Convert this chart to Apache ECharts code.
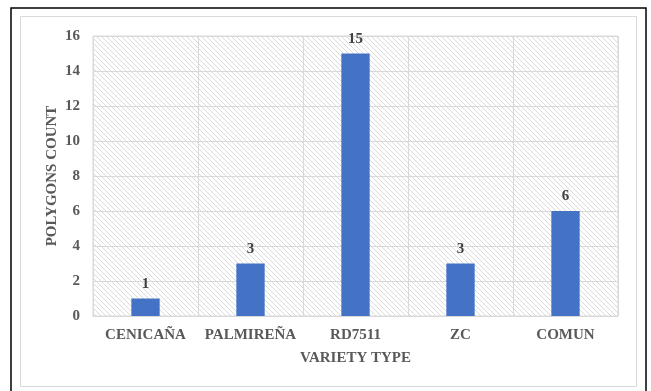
<!DOCTYPE html>
<html>
<head>
<meta charset="utf-8">
<script src="https://cdn.jsdelivr.net/npm/echarts@6/dist/echarts.min.js"></script>
<style>
  html, body { margin: 0; padding: 0; background: #fff; }
  #chart { width: 651px; height: 391px; }
</style>
</head>
<body>
<div id="chart"></div>
<script>
// Polygon counts per variety type
const categories = ['CENICAÑA', 'PALMIREÑA', 'RD7511', 'ZC', 'COMUN'];
const polygonCounts = [1, 3, 15, 3, 6];
const yTicks = { min: 0, max: 16, step: 2 };

// Diagonal hatch tile for the plot area background
function hatchTile() {
  const s = 5;
  const c = document.createElement('canvas');
  c.width = s; c.height = s;
  const g = c.getContext('2d');
  g.fillStyle = '#ffffff';
  g.fillRect(0, 0, s, s);
  g.strokeStyle = '#dadada';
  g.lineWidth = 1;
  g.beginPath();
  g.moveTo(-1, -1); g.lineTo(s + 1, s + 1);
  g.moveTo(-1 - s, -1); g.lineTo(1, s + 1);
  g.moveTo(s - 1, -1); g.lineTo(2 * s + 1, s + 1);
  g.stroke();
  return c;
}

const font = '"Liberation Serif", "Times New Roman", serif';
const chart = echarts.init(document.getElementById('chart'), null, { renderer: 'canvas' });

chart.setOption({
  animation: false,
  backgroundColor: '#ffffff',
  textStyle: { fontFamily: font },
  graphic: [
    { type: 'rect', shape: { x: 11, y: 8, width: 635, height: 390 },
      style: { fill: 'none', stroke: '#000', lineWidth: 1.5 }, silent: true, z: 0 },
    { type: 'rect', shape: { x: 20.5, y: 16.5, width: 616, height: 370 },
      style: { fill: 'none', stroke: '#d9d9d9', lineWidth: 1 }, silent: true, z: 0 }
  ],
  grid: {
    left: 93, right: 33, top: 36, bottom: 75,
    show: true,
    borderWidth: 1,
    borderColor: '#d9d9d9',
    backgroundColor: { image: hatchTile(), repeat: 'repeat' }
  },
  xAxis: {
    type: 'category',
    data: categories,
    name: 'VARIETY TYPE',
    nameLocation: 'middle',
    nameGap: 35,
    nameTextStyle: { fontFamily: font, fontWeight: 'bold', fontSize: 15, color: '#595959' },
    axisLine: { show: true, lineStyle: { color: '#d9d9d9', width: 1 } },
    axisTick: { show: false },
    axisLabel: { interval: 0, fontFamily: font, fontWeight: 'bold', fontSize: 15, color: '#595959', margin: 12 },
    splitLine: { show: true, interval: 0, lineStyle: { color: '#d9d9d9', width: 1 } }
  },
  yAxis: {
    type: 'value',
    min: yTicks.min, max: yTicks.max, interval: yTicks.step,
    name: 'POLYGONS COUNT',
    nameLocation: 'middle',
    nameGap: 33,
    nameMoveOverlap: false,
    nameTextStyle: { fontFamily: font, fontWeight: 'bold', fontSize: 15, color: '#595959' },
    axisLine: { show: false },
    axisTick: { show: false },
    axisLabel: { fontFamily: font, fontWeight: 'bold', fontSize: 15, color: '#595959', margin: 13 },
    splitLine: { show: true, lineStyle: { color: '#d9d9d9', width: 1 } }
  },
  series: [{
    type: 'bar',
    data: polygonCounts,
    barWidth: '27%',
    itemStyle: { color: '#4472c4' },
    label: {
      show: true, position: 'top', distance: 7,
      fontFamily: font, fontWeight: 'bold', fontSize: 15, color: '#404040'
    }
  }]
});
</script>
</body>
</html>
